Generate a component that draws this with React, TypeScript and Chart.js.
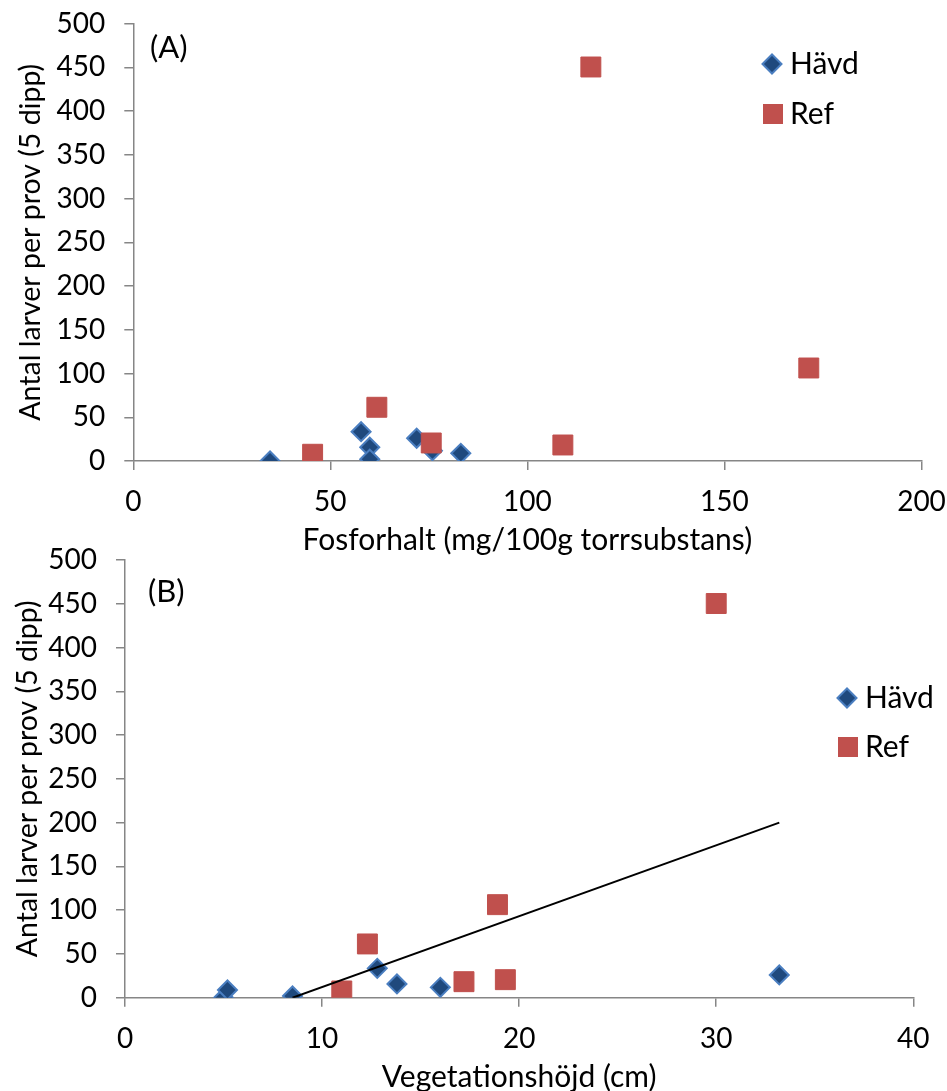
import React, { useEffect, useRef } from "react";
import { Chart, registerables } from "chart.js";

Chart.register(...registerables);

// ---- Data ----
// Panel A: Fosforhalt (mg/100g torrsubstans) vs Antal larver
const havdPhosphorus = [34.7, 57.8, 60.0, 60.0, 71.9, 75.9, 83.1];
const havdLarvaeA = [0, 33.5, 15.7, 2, 26, 11.8, 8.8];
const refPhosphorus = [45.5, 61.8, 75.6, 109, 116.1, 171.4];
const refLarvaeA = [7.7, 61.4, 20.6, 18.3, 450.3, 106.3];

// Panel B: Vegetationshöjd (cm) vs Antal larver
const havdHeight = [5.0, 5.2, 8.5, 12.8, 13.8, 16.0, 33.2];
const havdLarvaeB = [0, 8.8, 2, 33.5, 15.7, 11.8, 26];
const refHeight = [11.0, 12.3, 17.2, 18.9, 19.3, 30.0];
const refLarvaeB = [7.7, 61.4, 18.3, 106.3, 20.6, 450.3];
const trendX = [8.5, 33.2];
const trendY = [0, 200];

const seriesNames = ["Hävd", "Ref"];
const yTitle = "Antal larver per prov (5 dipp)";
const xTitleA = "Fosforhalt (mg/100g torrsubstans)";
const xTitleB = "Vegetationshöjd (cm)";
const yTicks = { min: 0, max: 500, step: 50 };
const xTicksA = { min: 0, max: 200, step: 50 };
const xTicksB = { min: 0, max: 40, step: 10 };

const FONT = "Lato";
const TICK_FS = 28;
const XTITLE_FS = 30;
const YTITLE_FS = 28.5;
const LEGEND_FS = 30;
const PANEL_FS = 31;
const AXIS = "#868686";
const BLUE_FILL = "#1F497D";
const BLUE_EDGE = "#4A7EC0";
const RED = "#C0504D";

const zip = (xs: number[], ys: number[]) => xs.map((x, i) => ({ x, y: ys[i] }));

const overlayPlugin = {
  id: "overlay",
  afterDraw(chart: any, _args: any, opts: any) {
    const ctx = chart.ctx;
    ctx.save();
    ctx.textBaseline = "middle";
    ctx.textAlign = "left";
    for (const it of opts.items || []) {
      if (it.marker === "diamond") {
        const r = 9.5;
        ctx.beginPath();
        ctx.moveTo(it.x - r, it.y);
        ctx.lineTo(it.x, it.y - r);
        ctx.lineTo(it.x + r, it.y);
        ctx.lineTo(it.x, it.y + r);
        ctx.closePath();
        ctx.fillStyle = BLUE_FILL;
        ctx.fill();
        ctx.lineWidth = 2;
        ctx.strokeStyle = BLUE_EDGE;
        ctx.stroke();
      } else if (it.marker === "square") {
        ctx.fillStyle = RED;
        ctx.fillRect(it.x - 10, it.y - 10, 20, 20);
      }
      if (it.text) {
        ctx.font = `${it.fs ?? LEGEND_FS}px ${FONT}`;
        ctx.fillStyle = "#000";
        ctx.fillText(it.text, it.tx ?? it.x, it.y);
      }
    }
    ctx.restore();
  },
};

const zeroPad = (s: any) => {
  s.paddingTop = 0;
  s.paddingBottom = 0;
  s.paddingLeft = 0;
  s.paddingRight = 0;
};

function makeConfig(p: any) {
  const font = { family: FONT, size: TICK_FS };
  return {
    type: "scatter",
    data: {
      datasets: [
        ...(p.trend
          ? [
              {
                label: "trend",
                data: p.trend,
                showLine: true,
                pointRadius: 0,
                borderColor: "#000",
                borderWidth: 2,
                order: 0,
              },
            ]
          : []),
        {
          label: seriesNames[0],
          data: p.havd,
          pointStyle: "rectRot",
          pointRadius: 9.5,
          backgroundColor: BLUE_FILL,
          borderColor: BLUE_EDGE,
          borderWidth: 2,
          order: 2,
        },
        {
          label: seriesNames[1],
          data: p.ref,
          pointStyle: "rect",
          pointRadius: 14.1,
          backgroundColor: RED,
          borderColor: RED,
          borderWidth: 1,
          order: 1,
        },
      ],
    },
    options: {
      responsive: false,
      devicePixelRatio: 1,
      animation: false,
      events: [],
      layout: { padding: { left: 0, top: p.padTop, right: p.padRight, bottom: 0 } },
      plugins: {
        legend: { display: false },
        tooltip: { enabled: false },
        overlay: { items: p.overlay },
      },
      scales: {
        x: {
          type: "linear",
          min: p.xTicks.min,
          max: p.xTicks.max,
          afterFit: (s: any) => {
            s.height = p.xHeight;
            zeroPad(s);
          },
          border: { display: true, color: AXIS, width: 1.5 },
          grid: {
            display: true,
            drawOnChartArea: false,
            drawTicks: true,
            tickLength: 9,
            color: AXIS,
            lineWidth: 1.5,
          },
          ticks: {
            stepSize: p.xTicks.step,
            color: "#000",
            font,
            padding: p.xTickPad,
            maxRotation: 0,
          },
          title: {
            display: true,
            text: p.xTitle,
            color: "#000",
            font: { family: FONT, size: XTITLE_FS, lineHeight: 1 },
            padding: { top: 0, bottom: p.xTitlePad },
          },
        },
        y: {
          type: "linear",
          min: yTicks.min,
          max: yTicks.max,
          afterFit: (s: any) => {
            s.width = p.yWidth;
            zeroPad(s);
          },
          border: { display: true, color: AXIS, width: 1.5 },
          grid: {
            display: true,
            drawOnChartArea: false,
            drawTicks: true,
            tickLength: 9,
            color: AXIS,
            lineWidth: 1.5,
          },
          ticks: {
            stepSize: yTicks.step,
            color: "#000",
            font,
            padding: 19,
          },
          title: {
            display: true,
            text: yTitle,
            color: "#000",
            font: { family: FONT, size: YTITLE_FS, lineHeight: 1 },
            padding: { top: p.yTitlePad, bottom: 0 },
          },
        },
      },
    },
    plugins: [overlayPlugin],
  } as any;
}

export default function App() {
  const refA = useRef<HTMLCanvasElement>(null);
  const refB = useRef<HTMLCanvasElement>(null);

  useEffect(() => {
    const chartA = new Chart(
      refA.current as HTMLCanvasElement,
      makeConfig({
        havd: zip(havdPhosphorus, havdLarvaeA),
        ref: zip(refPhosphorus, refLarvaeA),
        xTicks: xTicksA,
        xTitle: xTitleA,
        padTop: 23.5,
        padRight: 25.5,
        xHeight: 99,
        yWidth: 133.3,
        xTickPad: 14.9,
        xTitlePad: 5,
        yTitlePad: 16.75,
        overlay: [
          { text: "(A)", x: 150, y: 48, fs: PANEL_FS },
          { marker: "diamond", x: 772, y: 64, text: seriesNames[0], tx: 790 },
          { marker: "square", x: 773, y: 114, text: seriesNames[1], tx: 790 },
        ],
      })
    );
    const chartB = new Chart(
      refB.current as HTMLCanvasElement,
      makeConfig({
        havd: zip(havdHeight, havdLarvaeB),
        ref: zip(refHeight, refLarvaeB),
        trend: zip(trendX, trendY),
        xTicks: xTicksB,
        xTitle: xTitleB,
        padTop: 20,
        padRight: 33.7,
        xHeight: 93.3,
        yWidth: 125,
        xTickPad: 15.5,
        xTitlePad: -1,
        yTitlePad: 13.75,
        overlay: [
          { text: "(B)", x: 148, y: 52, fs: PANEL_FS },
          { marker: "diamond", x: 847, y: 158, text: seriesNames[0], tx: 865 },
          { marker: "square", x: 848, y: 207, text: seriesNames[1], tx: 865 },
        ],
      })
    );
    return () => {
      chartA.destroy();
      chartB.destroy();
    };
  }, []);

  return (
    <div
      style={{
        position: "absolute",
        left: 0,
        top: 0,
        width: 947,
        height: 1091,
        overflow: "hidden",
        background: "#fff",
      }}
    >
      <canvas
        ref={refA}
        width={947}
        height={560}
        style={{ position: "absolute", left: 0, top: 0, display: "block" }}
      />
      <canvas
        ref={refB}
        width={947}
        height={551}
        style={{ position: "absolute", left: 0, top: 540, display: "block" }}
      />
    </div>
  );
}
